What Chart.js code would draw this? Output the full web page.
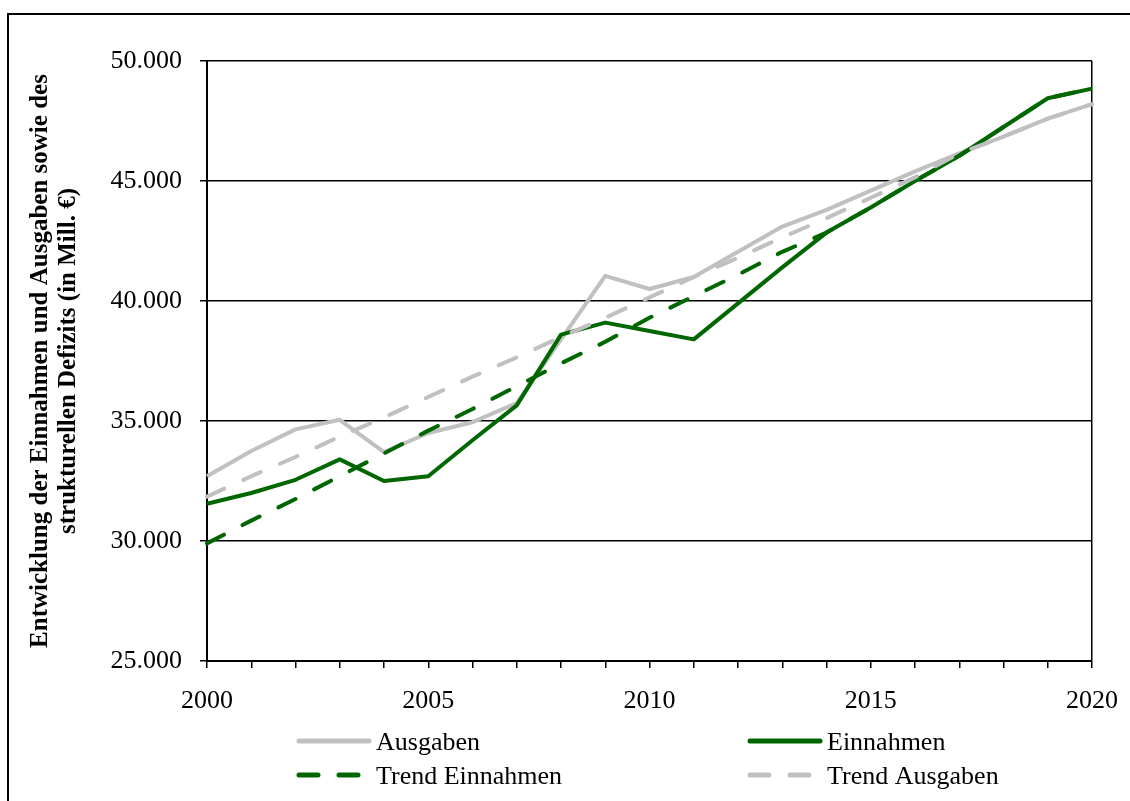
<!DOCTYPE html>
<html><head><meta charset="utf-8">
<script src="https://cdn.jsdelivr.net/npm/chart.js@4"></script>
<style>
html,body{margin:0;padding:0;background:#fff;overflow:hidden;}
#frame{position:absolute;left:7px;top:13px;width:1400px;height:1000px;border-left:2px solid #000;border-top:2px solid #000;}
#wrap{position:absolute;left:0;top:0;width:1130px;height:801px;}
</style></head><body>
<div id="frame"></div>
<div id="wrap"><canvas id="c" width="1130" height="801"></canvas></div>
<script>
const years = [2000,2001,2002,2003,2004,2005,2006,2007,2008,2009,2010,2011,2012,2013,2014,2015,2016,2017,2018,2019,2020];
const ausgaben = [32700,33750,34650,35050,33700,34500,34950,35750,38400,41050,40500,41000,42050,43100,43800,44600,45400,46150,46850,47600,48200];
const einnahmen = [31550,32000,32550,33400,32500,32700,34200,35650,38600,39100,38750,38400,39900,41400,42850,43900,45000,46050,47250,48450,48850];
const trendEinnahmen = [29900,30850,31750,32700,33650,34600,35500,36450,37400,38300,39300,40200,41100,42050,42850,43900,45000,46050,47250,48450,48850];
const trendAusgaben = [31850,32700,33500,34350,35150,36000,36850,37650,38500,39300,40150,41000,41800,42650,43450,44300,45150,46150,46850,47600,48200];
const yTicks = [25000,30000,35000,40000,45000,50000];
const seriesNames = ['Ausgaben','Einnahmen','Trend Einnahmen','Trend Ausgaben'];
const yTitle = ['Entwicklung der Einnahmen und Ausgaben sowie des','strukturellen Defizits (in Mill. €)'];

const GRAY = '#C0C0C0', GREEN = '#006600';
const FONT = 'Liberation Serif';
const fmt = v => String(v).replace(/\B(?=(\d{3})+(?!\d))/g, '.');

const legendPlugin = {
  id: 'customLegend',
  afterDraw(chart) {
    const ctx = chart.ctx;
    const pos = [[297,741],[748,741],[297,775],[748,775]];
    chart.data.datasets.forEach((ds, i) => {
      const [x, y] = pos[i];
      ctx.save();
      ctx.strokeStyle = ds.borderColor;
      ctx.lineWidth = 5;
      ctx.lineCap = 'round';
      ctx.setLineDash(ds.borderDash || []);
      ctx.beginPath();
      ctx.moveTo(x + 2, y);
      ctx.lineTo(x + 72, y);
      ctx.stroke();
      ctx.setLineDash([]);
      ctx.fillStyle = '#000';
      ctx.font = '26px "' + FONT + '"';
      ctx.textBaseline = 'middle';
      ctx.textAlign = 'left';
      ctx.fillText(ds.label, x + 79, y + 2);
      ctx.restore();
    });
  }
};

const mk = (label, data, color, dash, order) => ({
  label, data, borderColor: color, backgroundColor: color,
  borderWidth: 4, borderDash: dash, borderCapStyle: dash.length ? 'round' : 'butt',
  borderJoinStyle: 'round', pointRadius: 0, pointHoverRadius: 0, tension: 0, fill: false, order
});

new Chart(document.getElementById('c'), {
  type: 'line',
  data: {
    labels: years,
    datasets: [
      mk(seriesNames[0], ausgaben, GRAY, [], 4),
      mk(seriesNames[1], einnahmen, GREEN, [], 3),
      mk(seriesNames[2], trendEinnahmen, GREEN, [19,21], 2),
      mk(seriesNames[3], trendAusgaben, GRAY, [19,21], 1)
    ]
  },
  options: {
    responsive: false,
    animation: false,
    devicePixelRatio: 1,
    layout: { padding: { top: 61, right: 38, left: 0, bottom: 0 } },
    plugins: { legend: { display: false }, tooltip: { enabled: false } },
    scales: {
      x: {
        type: 'category', offset: false,
        ticks: { autoSkip: false, maxRotation: 0, minRotation: 0, color: '#000', padding: 18,
          font: { family: FONT, size: 26 },
          callback: (v, i) => (years[i] % 5 === 0 ? String(years[i]) : '') },
        grid: { drawOnChartArea: true, lineWidth: 1.5, tickLength: 7, tickColor: '#000',
          color: c => (c.index === years.length - 1 ? '#000' : 'rgba(0,0,0,0)') },
        border: { color: '#000', width: 2 },
        afterFit: s => { s.height = 140; s.paddingLeft = 0; s.paddingRight = 0; }
      },
      y: {
        min: yTicks[0], max: yTicks[yTicks.length - 1],
        afterBuildTicks: s => { s.ticks = yTicks.map(v => ({ value: v })); },
        ticks: { color: '#000', padding: 18, font: { family: FONT, size: 26 }, callback: v => fmt(v) },
        grid: { color: '#000', lineWidth: 1.5, tickLength: 7, tickColor: '#000' },
        border: { color: '#000', width: 2 },
        title: { display: true, text: yTitle, color: '#000', padding: { top: 27 },
          font: { family: FONT, size: 25, weight: 'bold', lineHeight: 1.12 } },
        afterFit: s => { s.width = 207; s.paddingTop = 0; s.paddingBottom = 0; }
      }
    }
  },
  plugins: [legendPlugin]
});
</script>
</body></html>
